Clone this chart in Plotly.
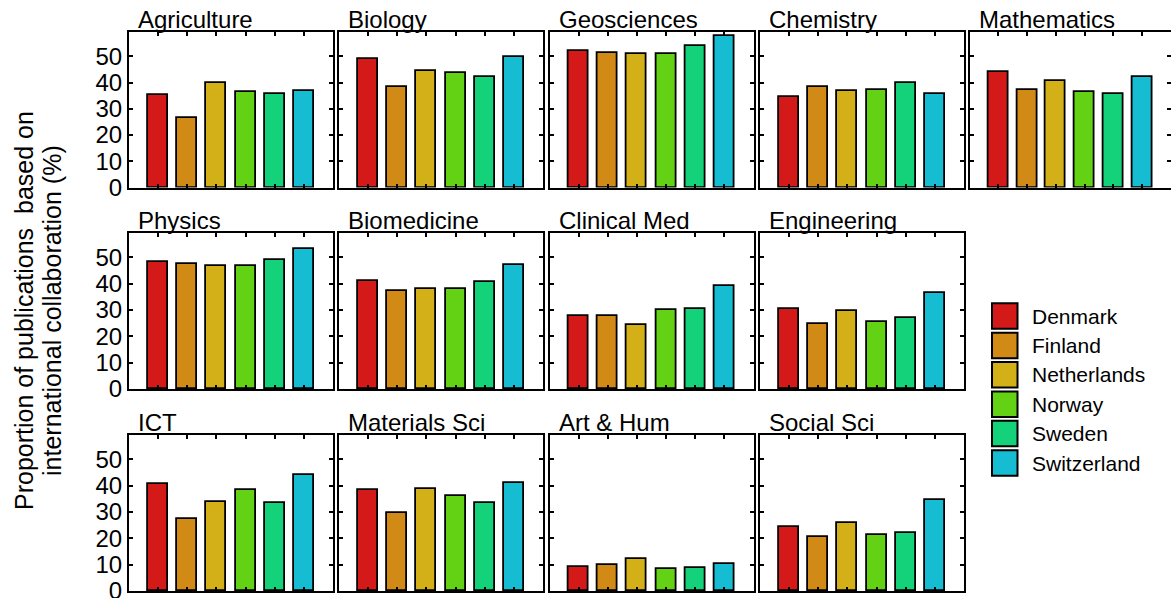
import plotly.graph_objects as go

# ---------------- data ----------------
fields = ["Agriculture", "Biology", "Geosciences", "Chemistry", "Mathematics",
          "Physics", "Biomedicine", "Clinical Med", "Engineering",
          "ICT", "Materials Sci", "Art & Hum", "Social Sci"]
countries = ["Denmark", "Finland", "Netherlands", "Norway", "Sweden", "Switzerland"]
colors = ["#d41919", "#d28a16", "#d4b018", "#64d214", "#14d27a", "#16bcd2"]

denmark     = [35.1, 49.1, 52.0, 34.4, 44.0, 48.2, 41.2, 27.9, 30.3, 40.6, 38.3, 9.2, 24.4]
finland     = [26.5, 38.5, 51.3, 38.3, 37.1, 47.6, 37.4, 27.8, 24.6, 27.5, 29.5, 10.0, 20.7]
netherlands = [39.7, 44.4, 51.0, 36.9, 40.6, 46.6, 38.0, 24.4, 29.6, 33.9, 38.8, 12.2, 26.0]
norway      = [36.4, 43.6, 50.8, 37.1, 36.6, 46.7, 38.0, 30.0, 25.5, 38.3, 36.1, 8.4, 21.4]
sweden      = [35.5, 42.0, 54.1, 39.8, 35.8, 49.2, 40.6, 30.6, 27.0, 33.6, 33.3, 8.9, 21.9]
switzerland = [36.9, 49.6, 57.7, 35.8, 42.2, 53.2, 47.1, 39.1, 36.4, 44.0, 41.1, 10.2, 34.5]

series = [denmark, finland, netherlands, norway, sweden, switzerland]
ytick_vals = [0, 10, 20, 30, 40, 50]
ytick_text = ["0", "10", "20", "30", "40", "50"]
panel_rows = [0, 0, 0, 0, 0, 1, 1, 1, 1, 2, 2, 2, 2]
panel_cols = [0, 1, 2, 3, 4, 0, 1, 2, 3, 0, 1, 2, 3]
ylabel_lines = ["Proportion of publications  based on", "international collaboration (%)"]

# ---------------- layout geometry (px) ----------------
W, H = 1171, 598
col_left = [129, 339, 549.5, 760, 969.5]
col_w = 204
row_span = [(32, 187.5), (233, 389), (435, 591)]

FONT = "Liberation Sans, Arial, Helvetica, sans-serif"

fig = go.Figure()
layout = dict(
    template="none",
    width=W, height=H,
    margin=dict(l=0, r=0, t=0, b=0, pad=0, autoexpand=False),
    paper_bgcolor="white", plot_bgcolor="white",
    showlegend=False,
    font=dict(family=FONT, color="black"),
    bargap=0.0,
)
annotations = []
shapes = []

for i, name in enumerate(fields):
    r, c = panel_rows[i], panel_cols[i]
    idx = i + 1
    xa = "x" if idx == 1 else f"x{idx}"
    ya = "y" if idx == 1 else f"y{idx}"
    x0 = col_left[c] / W
    x1 = min(col_left[c] + col_w, W) / W
    top, bot = row_span[r]
    y0 = 1 - bot / H
    y1 = 1 - top / H
    fig.add_trace(go.Bar(
        x=[1, 2, 3, 4, 5, 6],
        y=[s[i] for s in series],
        width=0.69,
        marker=dict(color=colors, line=dict(color="black", width=1.8)),
        xaxis=xa, yaxis=ya,
        hovertext=countries,
    ))
    layout["xaxis" if idx == 1 else f"xaxis{idx}"] = dict(
        domain=[x0, x1], anchor=ya, range=[0, 7], automargin=False,
        tickvals=[1, 2, 3, 4, 5, 6], showticklabels=False,
        ticks="inside", ticklen=4, tickwidth=1.5, tickcolor="black",
        showline=True, linecolor="black", linewidth=2, mirror="ticks",
        showgrid=False, zeroline=False, fixedrange=True,
    )
    layout["yaxis" if idx == 1 else f"yaxis{idx}"] = dict(
        domain=[y0, y1], anchor=xa, range=[0, 59.3], automargin=False,
        tickvals=ytick_vals, ticktext=ytick_text, showticklabels=(c == 0),
        ticklabeloverflow="allow",
        tickfont=dict(size=24, family=FONT, color="black"),
        ticks="inside", ticklen=4, tickwidth=1.5, tickcolor="black",
        showline=True, linecolor="black", linewidth=2, mirror="ticks",
        showgrid=False, zeroline=False, fixedrange=True,
    )
    annotations.append(dict(
        x=x0 + 8 / W, y=y1, xref="paper", yref="paper",
        xanchor="left", yanchor="bottom", text=name, showarrow=False,
        font=dict(size=24, family=FONT, color="black"), borderpad=0,
        yshift=-2,
    ))

# y-axis title (two rotated lines)
for line, lx in zip(ylabel_lines, [24, 52]):
    annotations.append(dict(
        x=lx / W, y=1 - 311 / H, xref="paper", yref="paper",
        xanchor="center", yanchor="middle", textangle=-90,
        text=line, showarrow=False,
        font=dict(size=25, family=FONT, color="black"),
    ))

# legend (drawn manually for large swatches)
leg_x0, leg_sz = 992, 25.5
leg_y0, leg_dy = 316, 29.4
for k, (cname, col) in enumerate(zip(countries, colors)):
    cy = leg_y0 + k * leg_dy
    shapes.append(dict(
        type="rect", xref="paper", yref="paper",
        x0=leg_x0 / W, x1=(leg_x0 + leg_sz) / W,
        y0=1 - (cy + leg_sz / 2) / H, y1=1 - (cy - leg_sz / 2) / H,
        fillcolor=col, line=dict(color="black", width=2),
    ))
    annotations.append(dict(
        x=1030 / W, y=1 - cy / H, xref="paper", yref="paper",
        xanchor="left", yanchor="middle", text=cname, showarrow=False,
        font=dict(size=21, family=FONT, color="black"),
    ))

layout["annotations"] = annotations
layout["shapes"] = shapes
fig.update_layout(**layout)
fig.write_html(
    "out.html",
    config={"displayModeBar": False},
    post_script="document.body.style.margin='0';document.body.style.overflow='hidden';",
)
